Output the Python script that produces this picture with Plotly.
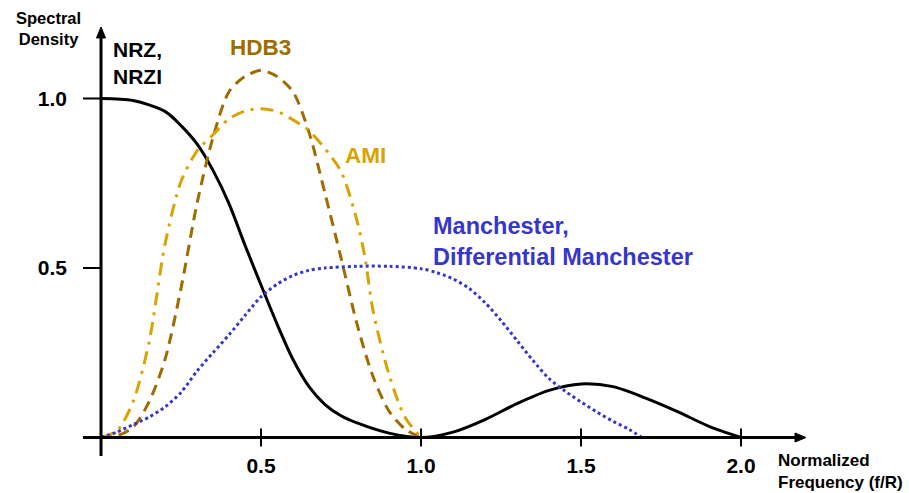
import plotly.graph_objects as go

# ---------------- data ----------------
nrz_f = [0, 0.1, 0.2, 0.25, 0.3, 0.35, 0.4, 0.45, 0.5, 0.55, 0.6, 0.65, 0.7, 0.75, 0.8, 0.9,
         1.0, 1.1, 1.2, 1.3, 1.4, 1.5, 1.6, 1.7, 1.8, 1.9, 2.0]
nrz_d = [1.0, 0.994, 0.962, 0.92, 0.866, 0.788, 0.69, 0.567, 0.45, 0.335, 0.23, 0.15, 0.097,
         0.064, 0.043, 0.013, 0.0, 0.016, 0.053, 0.10, 0.139, 0.158, 0.150, 0.117, 0.077, 0.033, 0.0]

hdb3_f = [0, 0.05, 0.1, 0.15, 0.2, 0.25, 0.3, 0.35, 0.4, 0.45, 0.5, 0.55, 0.6, 0.65, 0.7, 0.75,
          0.8, 0.85, 0.9, 0.95, 1.0]
hdb3_d = [0, 0.005, 0.03, 0.105, 0.23, 0.44, 0.69, 0.885, 1.02, 1.065, 1.083, 1.065, 1.02, 0.90,
          0.72, 0.53, 0.335, 0.18, 0.078, 0.025, 0]

ami_f = [0, 0.05, 0.1, 0.15, 0.2, 0.25, 0.3, 0.35, 0.4, 0.45, 0.5, 0.55, 0.6, 0.65, 0.7, 0.75,
         0.8, 0.825, 0.85, 0.9, 0.95, 1.0]
ami_d = [0, 0.02, 0.105, 0.28, 0.57, 0.755, 0.845, 0.893, 0.94, 0.963, 0.97, 0.962, 0.937, 0.905,
         0.852, 0.785, 0.64, 0.53, 0.375, 0.186, 0.06, 0]

man_f = [0, 0.05, 0.1, 0.15, 0.2, 0.25, 0.3, 0.35, 0.4, 0.45, 0.5, 0.55, 0.6, 0.65, 0.7, 0.8, 0.9,
         1.0, 1.05, 1.1, 1.15, 1.2, 1.25, 1.3, 1.35, 1.4, 1.45, 1.5, 1.55, 1.6, 1.65, 1.69]
man_d = [0, 0.016, 0.038, 0.06, 0.09, 0.133, 0.196, 0.25, 0.303, 0.36, 0.415, 0.452, 0.478, 0.493,
         0.5, 0.505, 0.505, 0.498, 0.486, 0.468, 0.44, 0.398, 0.345, 0.286, 0.227, 0.174, 0.137,
         0.105, 0.075, 0.048, 0.024, 0.0]

x_ticks = [0.5, 1.0, 1.5, 2.0]
x_ticktext = ["0.5", "1.0", "1.5", "2.0"]
y_ticks = [0.5, 1.0]
y_ticktext = ["0.5", "1.0"]

# ---------------- styles ----------------
W, H = 909, 493
X0PX, XSCALE = 101, 320.0     # pixel of f=0, pixels per unit
Y0PX, YSCALE = 437.5, 339.0   # pixel of d=0, pixels per unit
FONT = "Liberation Sans, Arial, sans-serif"
C_NRZ = "#000000"
C_HDB3 = "#A06C00"
C_AMI = "#D9A300"
C_MAN = "#3636CC"


def dx(px):
    return (px - X0PX) / XSCALE


def dy(py):
    return (Y0PX - py) / YSCALE


fig = go.Figure()
fig.add_trace(go.Scatter(x=nrz_f, y=nrz_d, mode="lines", name="NRZ, NRZI",
                         line=dict(color=C_NRZ, width=3, shape="spline", smoothing=0.8)))
fig.add_trace(go.Scatter(x=hdb3_f, y=hdb3_d, mode="lines", name="HDB3",
                         line=dict(color=C_HDB3, width=3, shape="spline", smoothing=0.8,
                                   dash="11px,7px")))
fig.add_trace(go.Scatter(x=ami_f, y=ami_d, mode="lines", name="AMI",
                         line=dict(color=C_AMI, width=3, shape="spline", smoothing=0.8,
                                   dash="13px,7px,3px,7px")))
fig.add_trace(go.Scatter(x=man_f, y=man_d, mode="lines", name="Manchester",
                         line=dict(color=C_MAN, width=3, shape="spline", smoothing=0.8,
                                   dash="3px,3px")))

shapes = []
# axis lines
shapes.append(dict(type="line", xref="x", yref="y", x0=dx(83), x1=dx(800), y0=0, y1=0,
                   line=dict(color="black", width=3)))
shapes.append(dict(type="line", xref="x", yref="y", x0=0, x1=0, y0=dy(456), y1=dy(34),
                   line=dict(color="black", width=3)))
# arrow heads (pixel-sized)
shapes.append(dict(type="path", xref="x", yref="y", xsizemode="pixel", ysizemode="pixel",
                   xanchor=dx(806), yanchor=0, path="M0,0 L-11,-4.5 L-11,4.5 Z",
                   fillcolor="black", line=dict(color="black", width=1)))
shapes.append(dict(type="path", xref="x", yref="y", xsizemode="pixel", ysizemode="pixel",
                   xanchor=0, yanchor=dy(27), path="M0,0 L-4.5,-11 L4.5,-11 Z",
                   fillcolor="black", line=dict(color="black", width=1)))
# tick marks
for v in x_ticks:
    shapes.append(dict(type="line", xref="x", yref="y", ysizemode="pixel", yanchor=0,
                       x0=v, x1=v, y0=-9, y1=9, line=dict(color="black", width=2)))
for v in y_ticks:
    shapes.append(dict(type="line", xref="x", yref="y", xsizemode="pixel", xanchor=0,
                       x0=-18, x1=0, y0=v, y1=v, line=dict(color="black", width=2)))

annotations = [
    dict(text="<b>Spectral<br>Density</b>", x=dx(48), y=dy(28), xanchor="center",
         yanchor="middle", font=dict(size=16.5, color="black", family=FONT)),
    dict(text="<b>Normalized<br>Frequency (f/R)</b>", x=dx(776), y=dy(471), xanchor="left",
         yanchor="middle", align="left", font=dict(size=17, color="black", family=FONT)),
    dict(text="<b>NRZ,<br>NRZI</b>", x=dx(111), y=dy(63), xanchor="left", yanchor="middle",
         align="left", font=dict(size=21, color=C_NRZ, family=FONT)),
    dict(text="<b>HDB3</b>", x=dx(260), y=dy(47), xanchor="center", yanchor="middle",
         font=dict(size=22.5, color=C_HDB3, family=FONT)),
    dict(text="<b>AMI</b>", x=dx(343), y=dy(155), xanchor="left", yanchor="middle",
         font=dict(size=22.5, color=C_AMI, family=FONT)),
    dict(text="<b>Manchester,<br>Differential Manchester</b>", x=dx(431), y=dy(241),
         xanchor="left", yanchor="middle", align="left",
         font=dict(size=23.5, color=C_MAN, family=FONT)),
]
for a in annotations:
    a.update(xref="x", yref="y", showarrow=False)

fig.update_layout(
    width=W, height=H,
    margin=dict(l=0, r=0, t=0, b=0, pad=0),
    paper_bgcolor="white", plot_bgcolor="white",
    showlegend=False,
    shapes=shapes,
    annotations=annotations,
    xaxis=dict(range=[dx(0), dx(W)], anchor="free", position=(H - Y0PX) / H,
               showgrid=False, zeroline=False, showline=False, ticks="",
               tickmode="array", tickvals=x_ticks, ticktext=x_ticktext,
               tickfont=dict(size=21, color="black", family=FONT, weight=700),
               ticklabelstandoff=13, automargin=False, fixedrange=True),
    yaxis=dict(range=[dy(H), dy(0)], anchor="free", position=X0PX / W,
               showgrid=False, zeroline=False, showline=False, ticks="",
               tickmode="array", tickvals=y_ticks, ticktext=y_ticktext,
               tickfont=dict(size=21, color="black", family=FONT, weight=700),
               ticklabelstandoff=34, automargin=False, fixedrange=True),
)

fig.write_html("out.html", config={"displayModeBar": False},
               post_script="document.body.style.margin='0';document.body.style.overflow='hidden';")
